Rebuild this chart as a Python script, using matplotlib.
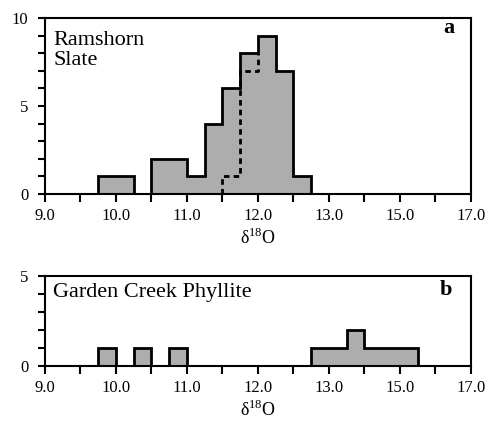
import matplotlib
matplotlib.use("Agg")
import matplotlib.pyplot as plt
import numpy as np

plt.rcParams['font.family'] = ['Liberation Serif', 'DejaVu Serif']
plt.rcParams['mathtext.fontset'] = 'custom'
plt.rcParams['mathtext.rm'] = 'Liberation Serif'

# histogram bins are 0.25 wide on the plotting scale; the last tick labels jump by 2
tick_pos = [9.0, 10.0, 11.0, 12.0, 13.0, 14.0, 15.0]
tick_labels = ["9.0", "10.0", "11.0", "12.0", "13.0", "15.0", "17.0"]

# panel a: Ramshorn Slate
edges_a = np.arange(9.75, 12.76, 0.25)
counts_a = [1, 1, 0, 2, 2, 1, 4, 6, 8, 9, 7, 1]
# dashed sub-population outline
sub_x = [11.5, 11.5, 11.75, 11.75, 12.0, 12.0]
sub_y = [0, 1, 1, 7, 7, 8]

# panel b: Garden Creek Phyllite
edges_b = np.arange(9.75, 14.26, 0.25)
counts_b = [1, 0, 1, 0, 1, 0, 0, 0, 0, 0, 0, 0, 1, 1, 2, 1, 1, 1]

fill = '#adadad'

fig = plt.figure(figsize=(4.9, 4.21), dpi=100)
ax_a = fig.add_axes([0.0918, 0.539, 0.869, 0.418])
ax_b = fig.add_axes([0.0918, 0.1306, 0.869, 0.2138])


def draw_hist(ax, edges, counts, ymax, lines, line_y, letter, letter_xy):
    ax.stairs(counts, edges, fill=True, color=fill, zorder=2)
    ax.stairs(counts, edges, color='black', linewidth=2.0, baseline=0, zorder=3)
    ax.set_xlim(9.0, 15.0)
    ax.set_ylim(0, ymax)
    xt = np.arange(9.0, 15.01, 0.5)
    ax.set_xticks(xt)
    ax.set_xticklabels([tick_labels[tick_pos.index(t)] if t in tick_pos else "" for t in xt])
    ax.set_yticks(range(0, ymax + 1))
    ax.set_yticklabels([str(v) if v % 5 == 0 else "" for v in range(0, ymax + 1)])
    ax.tick_params(axis='x', direction='out', length=6, width=1.5, labelsize=12, pad=4)
    ax.tick_params(axis='y', direction='out', length=5, width=1.5, labelsize=12, pad=7)
    for s in ax.spines.values():
        s.set_linewidth(1.5)
    for txt, y in zip(lines, line_y):
        ax.text(0.019, y, txt, transform=ax.transAxes, ha='left', va='baseline', fontsize=16)
    ax.text(letter_xy[0], letter_xy[1], letter, transform=ax.transAxes, ha='right',
            va='baseline', fontsize=16, fontweight='bold')


draw_hist(ax_a, edges_a, counts_a, 10, ["Ramshorn", "Slate"], [0.847, 0.733], "a", (0.962, 0.915))
ax_a.plot(sub_x, sub_y, color='black', linestyle=(0, (2, 1.5)), linewidth=2.0, zorder=4)
ax_a.set_xlabel(r"δ$^{18}$O", fontsize=13, labelpad=3)

draw_hist(ax_b, edges_b, counts_b, 5, ["Garden Creek Phyllite"], [0.767], "b", (0.955, 0.79))
ax_b.set_xlabel(r"δ$^{18}$O", fontsize=13, labelpad=3)

fig.savefig("out.png", dpi=100)
